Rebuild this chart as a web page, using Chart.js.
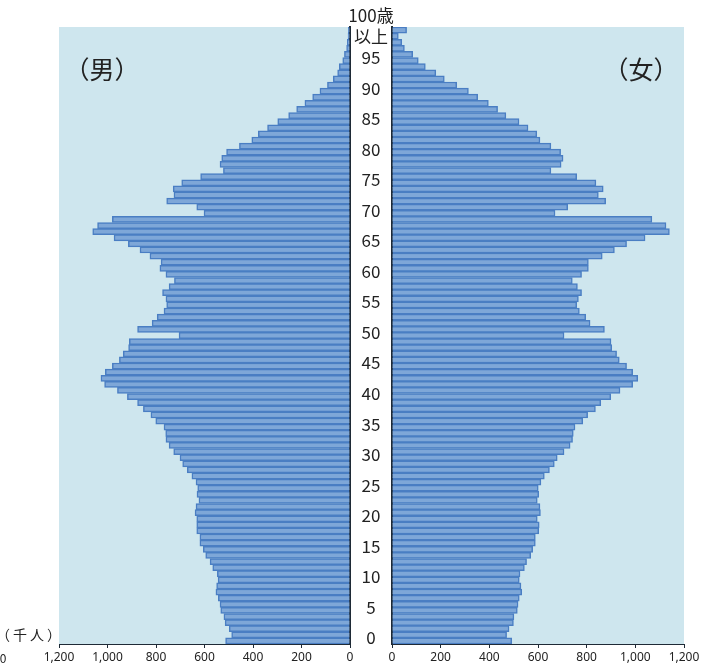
<!DOCTYPE html>
<html>
<head>
<meta charset="utf-8">
<script src="https://cdn.jsdelivr.net/npm/chart.js@4.4.1/dist/chart.umd.min.js"></script>
<style>
  body { margin: 0; background: #fff; font-family: "Noto Sans CJK JP", "Noto Sans", sans-serif; }
  #wrap { position: relative; width: 717px; height: 663px; overflow: hidden; }
  #maleBox { position: absolute; left: 0; top: 0; width: 360px; height: 663px; }
  #femaleBox { position: absolute; left: 350px; top: 0; width: 367px; height: 663px; }
  .lbl { position: absolute; color: #222; white-space: nowrap; transform: translate(-50%, -50%); }
</style>
</head>
<body>
<div id="wrap">
  <div id="maleBox"><canvas id="maleChart"></canvas></div>
  <div id="femaleBox"><canvas id="femaleChart"></canvas></div>
  <div class="lbl" style="left:102px; top:68px; font-size:25px;">（男）</div>
  <div class="lbl" style="left:641px; top:68px; font-size:25px;">（女）</div>
  <div class="lbl" style="left:30px; top:634px; font-size:14px; letter-spacing:3px;">（千人）</div>
  <div class="lbl" style="left:3px; top:657px; font-size:12px;">0</div>
</div>
<script>
// ages 0 .. 100 (100 = 100歳以上)
const ages = [];
for (let a = 0; a <= 100; a++) ages.push(a);

// 男 (千人), age 0 -> 100
const male = [
  513, 488, 498, 515, 520, 533, 536, 543, 553, 550,
  544, 547, 566, 577, 595, 605, 619, 619, 632, 632,
  632, 639, 635, 623, 631, 628, 635, 652, 671, 690,
  701, 727, 746, 759, 760, 767, 801, 821, 852, 876,
  918, 959, 1012, 1027, 1009, 980, 951, 935, 913, 910,
  705, 876, 816, 795, 767, 756, 759, 773, 746, 724,
  759, 784, 779, 825, 866, 914, 973, 1061, 1041, 980,
  602, 632, 756, 726, 729, 694, 616, 522, 536, 529,
  509, 456, 405, 378, 340, 298, 253, 220, 186, 154,
  124, 93, 69, 51, 44, 30, 23, 14, 11, 8,
  7
];

// 女 (千人), age 0 -> 100
const female = [
  492, 471, 481, 499, 501, 515, 518, 523, 533, 530,
  523, 526, 544, 553, 570, 578, 589, 589, 603, 605,
  597, 610, 608, 597, 603, 601, 612, 626, 647, 667,
  679, 707, 732, 742, 745, 752, 784, 804, 836, 858,
  899, 937, 989, 1010, 989, 964, 934, 923, 903, 900,
  707, 873, 814, 796, 770, 759, 766, 779, 762, 741,
  779, 807, 807, 864, 914, 964, 1040, 1140, 1126, 1068,
  670, 722, 878, 848, 868, 838, 759, 653, 695, 703,
  693, 653, 608, 595, 559, 522, 468, 434, 396, 352,
  314, 266, 215, 180, 137, 108, 85, 51, 40, 26,
  60
];

const xTicks = [0, 200, 400, 600, 800, 1000, 1200];
const AREA_BG = '#cee6ee';
const BAR_FILL = '#7ea7d8';
const BAR_EDGE = '#4a7ec3';
const INK = '#1e2a36';

// paint the plot area light blue
const areaBg = {
  id: 'areaBg',
  beforeDraw(chart) {
    const { ctx, chartArea: a } = chart;
    ctx.save();
    ctx.fillStyle = AREA_BG;
    ctx.fillRect(a.left, a.top, a.right - a.left, a.bottom - a.top);
    ctx.restore();
  }
};

// age labels between the two halves, placed with the y scale
const ageLabels = {
  id: 'ageLabels',
  afterDraw(chart) {
    const y = chart.scales.y;
    const { ctx } = chart;
    const cx = y.left + 21;
    ctx.save();
    ctx.fillStyle = '#222';
    ctx.font = '17px "Noto Sans CJK JP", "Noto Sans", sans-serif';
    ctx.textAlign = 'center';
    ctx.textBaseline = 'middle';
    ages.forEach((age, i) => {
      const py = y.getPixelForValue(i) - 3;
      if (age === 100) {
        ctx.fillText('100歳', cx, py - 12);
        ctx.fillText('以上', cx, py + 9);
      } else if (age % 5 === 0) {
        ctx.fillText(String(age), cx, py);
      }
    });
    ctx.restore();
  }
};

function fmt(v) {
  return v.toLocaleString('en-US');
}

function makeOptions(side) {
  const isMale = side === 'male';
  return {
    indexAxis: 'y',
    responsive: false,
    animation: false,
    maintainAspectRatio: false,
    layout: {
      padding: isMale
        ? { left: 59, right: 10, top: 27, bottom: 0 }
        : { left: 0, right: 33, top: 27, bottom: 0 }
    },
    plugins: { legend: { display: false }, tooltip: { enabled: false } },
    scales: {
      x: {
        type: 'linear',
        min: 0,
        max: 1200,
        reverse: isMale,
        afterBuildTicks: s => { s.ticks = xTicks.map(v => ({ value: v })); },
        afterFit: s => { s.height = 19; },
        grid: { drawOnChartArea: false, drawTicks: true, tickLength: 4, color: INK },
        border: { display: true, color: INK, width: 1 },
        ticks: {
          padding: 2,
          color: '#222',
          font: { family: '"Noto Sans", sans-serif', size: 12 },
          callback: v => fmt(v)
        }
      },
      y: {
        type: 'category',
        labels: ages,
        reverse: true,
        position: isMale ? 'right' : 'left',
        afterFit: s => { s.width = isMale ? 0 : 42; },
        grid: { display: false, drawTicks: false },
        border: { display: true, color: INK, width: 2 },
        ticks: { display: false }
      }
    }
  };
}

function makeChart(id, data, side, w) {
  const canvas = document.getElementById(id);
  canvas.width = w;
  canvas.height = 663;
  canvas.style.width = w + 'px';
  canvas.style.height = '663px';
  return new Chart(canvas.getContext('2d'), {
    type: 'bar',
    data: {
      labels: ages,
      datasets: [{
        data: data,
        backgroundColor: BAR_FILL,
        borderColor: BAR_EDGE,
        borderWidth: 1.5,
        barPercentage: 1,
        categoryPercentage: 1
      }]
    },
    options: makeOptions(side),
    plugins: side === 'female' ? [areaBg, ageLabels] : [areaBg]
  });
}

makeChart('maleChart', male, 'male', 360);
makeChart('femaleChart', female, 'female', 367);
</script>
</body>
</html>
